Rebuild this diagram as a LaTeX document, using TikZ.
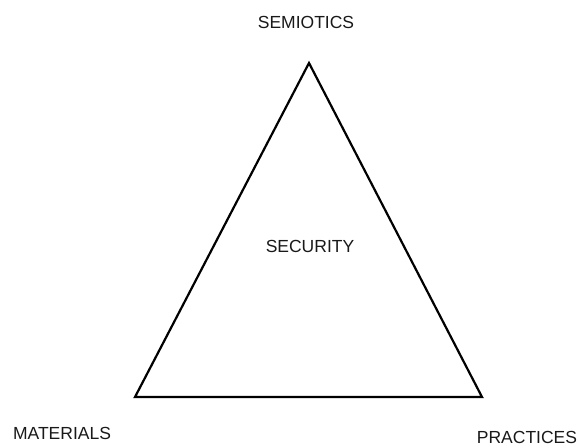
\documentclass[tikz,border=0pt]{standalone}
\usepackage{fontspec}
\setmainfont{Liberation Sans}
\tikzset{every picture/.style={line width=0.75pt}}
\tikzset{corner/.style={font=\fontsize{17.5}{20}\selectfont, text=black!90}}

\begin{document}
\begin{tikzpicture}[x=1pt,y=1pt,yscale=-1,xscale=1]
	\useasboundingbox (0,0) rectangle (578,447);

	%Shape: Triangle
	\coordinate (top) at (309,63);
	\coordinate (left) at (135,397);
	\coordinate (right) at (482,397);
	\draw [line width=2.2, line join=miter] (top) -- (right) -- (left) -- cycle ;

	% Text Node
	\node [corner] (semiotics) at (306,22) {SEMIOTICS};
	% Text Node
	\node [corner] (security) at (310,246) {SECURITY};
	% Text Node
	\node [corner] (materials) at (62,433) {MATERIALS};
	% Text Node
	\node [corner] (practices) at (527,437) {PRACTICES};

\end{tikzpicture}
\end{document}
